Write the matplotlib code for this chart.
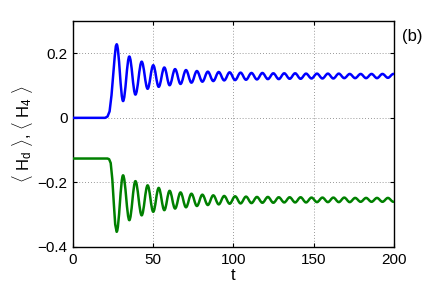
import matplotlib

matplotlib.use("Agg")
import matplotlib.pyplot as plt
from matplotlib.path import Path
from matplotlib.patches import PathPatch

# values
# onset of the response (before the first extremum)
t_rise = [0.0, 20.0, 21.5, 22.8, 24.0, 25.0, 26.0, 26.7]
hd_rise = [0.0, 0.0, 0.004, 0.02, 0.07, 0.13, 0.19, 0.222]
t_fall = [0.0, 21.5, 22.5, 23.5, 24.5, 25.5, 26.3]
h4_fall = [-0.126, -0.126, -0.128, -0.14, -0.19, -0.27, -0.33]

# extremum times: blue peaks / green troughs, and blue troughs / green peaks
t_hi = [27.2, 35.1, 42.8, 50.0, 56.9, 63.6, 70.4, 77.2, 84.0, 90.8, 97.6,
        104.4, 111.2, 118.0, 124.8, 131.6, 138.4, 145.2, 152.0, 158.8, 165.6,
        172.4, 179.2, 186.0, 192.8, 199.6]
t_lo = [31.2, 38.9, 46.5, 53.4, 60.2, 67.0, 73.8, 80.6, 87.4, 94.2, 101.0,
        107.8, 114.6, 121.4, 128.2, 135.0, 141.8, 148.6, 155.4, 162.2, 169.0,
        175.8, 182.6, 189.4, 196.2]

hd_peaks = [0.228, 0.190, 0.174, 0.163, 0.156, 0.151, 0.148, 0.145, 0.143,
            0.142, 0.141, 0.140, 0.139, 0.139, 0.138, 0.138, 0.138, 0.137,
            0.137, 0.137, 0.137, 0.136, 0.136, 0.136, 0.136, 0.136]
hd_troughs = [0.052, 0.072, 0.090, 0.096, 0.101, 0.105, 0.109, 0.112, 0.114,
              0.116, 0.117, 0.118, 0.119, 0.120, 0.120, 0.121, 0.121, 0.122,
              0.122, 0.122, 0.123, 0.123, 0.123, 0.123, 0.124]

h4_troughs = [-0.353, -0.317, -0.302, -0.291, -0.286, -0.281, -0.277, -0.273,
              -0.270, -0.268, -0.266, -0.265, -0.264, -0.263, -0.263, -0.262,
              -0.262, -0.262, -0.261, -0.261, -0.261, -0.261, -0.260, -0.260,
              -0.260, -0.260]
h4_peaks = [-0.178, -0.196, -0.209, -0.217, -0.226, -0.231, -0.235, -0.238,
            -0.240, -0.242, -0.243, -0.244, -0.245, -0.245, -0.246, -0.246,
            -0.246, -0.247, -0.247, -0.247, -0.247, -0.248, -0.248, -0.248,
            -0.248]

t_end = 200.0
hd_end = 0.136
h4_end = -0.260

x_ticks = [0, 50, 100, 150, 200]
y_ticks = [-0.4, -0.2, 0, 0.2]
y_tick_labels = ["\u22120.4", "\u22120.2", "0", "0.2"]


def merge(t_a, v_a, t_b, v_b):
    pts = sorted(list(zip(t_a, v_a)) + list(zip(t_b, v_b)))
    return [p[0] for p in pts], [p[1] for p in pts]


def wave_path(t_on, v_on, t_ext, v_ext, t_last, v_last):
    # straight segments for the onset, then smooth cubic arcs with flat
    # tangents at every extremum
    verts = [(t_on[0], v_on[0])]
    codes = [Path.MOVETO]
    for t, v in zip(t_on[1:], v_on[1:]):
        verts.append((t, v))
        codes.append(Path.LINETO)
    verts.append((t_ext[0], v_ext[0]))
    codes.append(Path.LINETO)
    pts = list(zip(t_ext, v_ext)) + [(t_last, v_last)]
    for (t1, v1), (t2, v2) in zip(pts[:-1], pts[1:]):
        d = t2 - t1
        verts += [(t1 + 0.36 * d, v1), (t2 - 0.36 * d, v2), (t2, v2)]
        codes += [Path.CURVE4] * 3
    return Path(verts, codes)


t_osc, hd_osc = merge(t_hi, hd_peaks, t_lo, hd_troughs)
_, h4_osc = merge(t_hi, h4_troughs, t_lo, h4_peaks)

plt.rcParams["font.family"] = ["Liberation Sans", "DejaVu Sans"]
plt.rcParams["mathtext.fontset"] = "custom"
plt.rcParams["mathtext.rm"] = "Liberation Sans"
plt.rcParams["mathtext.it"] = "Liberation Sans:italic"

fig = plt.figure(figsize=(4.36, 2.88), dpi=100)
ax = fig.add_axes([0.1674, 0.1424, 0.7363, 0.7847])

for path, col in [
    (wave_path(t_rise, hd_rise, t_osc, hd_osc, t_end, hd_end), (0, 0, 1)),
    (wave_path(t_fall, h4_fall, t_osc, h4_osc, t_end, h4_end), (0, 0.5, 0)),
]:
    ax.add_patch(PathPatch(path, fill=False, edgecolor=col, lw=1.8,
                           joinstyle="round", zorder=3))

ax.set_xlim(0, 200)
ax.set_ylim(-0.4, 0.3)
ax.set_xticks(x_ticks)
ax.set_yticks(y_ticks)
ax.set_yticklabels(y_tick_labels)
ax.tick_params(direction="in", top=True, right=True, labelsize=11,
               length=3, width=0.8, pad=4)
ax.grid(True, ls=(0, (1, 2.5)), color="#777777", lw=0.6)
for s in ax.spines.values():
    s.set_linewidth(1.0)

ax.set_xlabel("t", fontsize=12, labelpad=1)
ax.set_ylabel(r"$\langle$ H$_\mathrm{d}$ $\rangle$, $\langle$ H$_4$ $\rangle$",
              fontsize=12, labelpad=2)
fig.text(402 / 436, 1 - 36 / 288, "(b)", fontsize=12, va="center", ha="left")

fig.savefig("out.png", dpi=100)
